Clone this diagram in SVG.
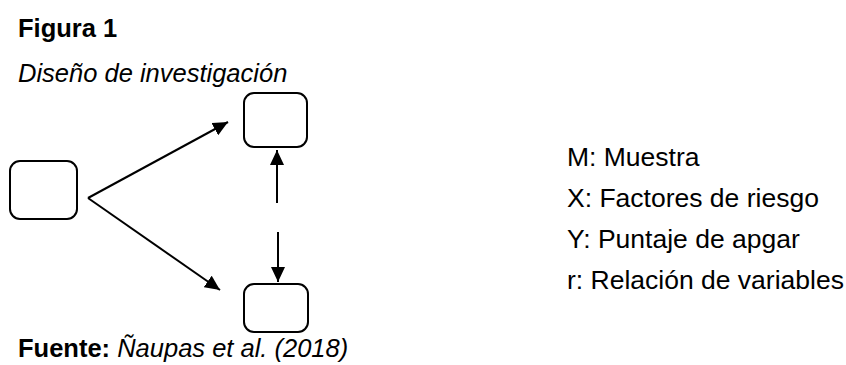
<svg xmlns="http://www.w3.org/2000/svg" width="846" height="365" viewBox="0 0 846 365">
  <style>
    .box { fill: #ffffff; stroke: #000000; stroke-width: 2; }
    .conn { stroke: #000000; stroke-width: 2; fill: none; }
    .t { font-family: "Liberation Sans", Arial, sans-serif; font-size: 25.5px; fill: #000000; }
    .lg { font-size: 26.5px; }
    .b { font-weight: bold; }
    .i { font-style: italic; }
  </style>
  <defs>
    <marker id="ah" markerUnits="userSpaceOnUse" markerWidth="16" markerHeight="14" refX="15" refY="7" orient="auto">
      <path d="M0,0 L15,7 L0,14 z" fill="#000000"/>
    </marker>
  </defs>
  <rect width="846" height="365" fill="#ffffff"/>
  <g id="title">
    <text class="t b" x="18" y="37">Figura 1</text>
    <text class="t i" x="18" y="82">Diseño de investigación</text>
  </g>
  <g id="node-M"><rect class="box" x="10" y="161" width="67" height="58" rx="10"/></g>
  <g id="node-X"><rect class="box" x="244" y="93" width="63" height="54" rx="10"/></g>
  <g id="node-Y"><rect class="box" x="244" y="284" width="64" height="48" rx="10"/></g>
  <g id="connectors">
    <line class="conn" x1="88" y1="198" x2="228" y2="122" marker-end="url(#ah)"/>
    <line class="conn" x1="88" y1="198" x2="220" y2="290" marker-end="url(#ah)"/>
    <line class="conn" x1="277" y1="203" x2="277" y2="150" marker-end="url(#ah)"/>
    <line class="conn" x1="278" y1="232" x2="278" y2="282" marker-end="url(#ah)"/>
  </g>
  <g id="legend">
    <text class="t lg" x="567" y="166">M: Muestra</text>
    <text class="t lg" x="567" y="207">X: Factores de riesgo</text>
    <text class="t lg" x="567" y="248">Y: Puntaje de apgar</text>
    <text class="t lg" x="567" y="289">r: Relación de variables</text>
  </g>
  <g id="source">
    <text class="t" x="18" y="357"><tspan class="b">Fuente:</tspan> <tspan class="i">Ñaupas et al. (2018)</tspan></text>
  </g>
</svg>
